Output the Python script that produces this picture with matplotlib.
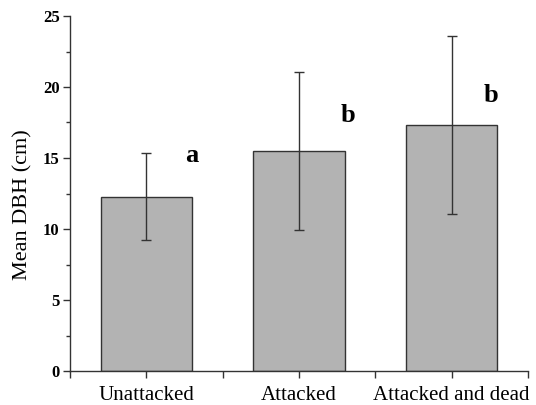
import matplotlib
matplotlib.use("Agg")
import matplotlib.pyplot as plt
import numpy as np
from matplotlib.ticker import MultipleLocator, FixedLocator

categories = ["Unattacked", "Attacked", "Attacked and dead"]
means = [12.27, 15.51, 17.32]
errors = [3.05, 5.55, 6.25]
letters = ["a", "b", "b"]
letter_x = [0.30, 1.32, 2.255]
letter_y = [14.70, 17.56, 18.92]

plt.rcParams['font.family'] = ['Liberation Serif', 'DejaVu Serif']

fig = plt.figure(figsize=(5.36, 4.05), dpi=100)
ax = fig.add_axes([70/536, 1-371/405, 458/536, 355/405])

x = np.arange(len(categories))
ax.bar(x, means, width=0.6, color='#b3b3b3', edgecolor='#333333', linewidth=1.0, zorder=2)
ax.errorbar(x, means, yerr=errors, fmt='none', ecolor='#333333', elinewidth=1.0,
            capsize=3.5, capthick=1.0, zorder=3)

for lx, ly, t in zip(letter_x, letter_y, letters):
    ax.text(lx, ly, t, ha='center', va='baseline', fontsize=19, fontweight='bold')

ax.set_xlim(-0.5, 2.5)
ax.set_ylim(0, 25)
ax.spines['top'].set_visible(False)
ax.spines['right'].set_visible(False)
for s in ['left', 'bottom']:
    ax.spines[s].set_color('#333333')
    ax.spines[s].set_linewidth(1.0)

ax.set_xticks(x)
ax.set_xticklabels(categories, fontsize=15)
ax.xaxis.set_minor_locator(FixedLocator([-0.5, 0.5, 1.5, 2.5]))
ax.yaxis.set_major_locator(MultipleLocator(5))
ax.yaxis.set_minor_locator(MultipleLocator(2.5))
ax.tick_params(axis='y', which='major', direction='out', length=5, width=1.0, color='#333333', pad=2.5, labelsize=12)
ax.tick_params(axis='y', which='minor', direction='out', length=3, width=1.0, color='#333333')
ax.tick_params(axis='x', which='both', direction='out', length=5, width=1.0, color='#333333', pad=6)
for lbl in ax.get_yticklabels():
    lbl.set_fontweight('bold')

ax.set_ylabel("Mean DBH (cm)", fontsize=16)
ax.yaxis.set_label_coords(-0.081, 0.468)

fig.savefig("out.png", dpi=100)
